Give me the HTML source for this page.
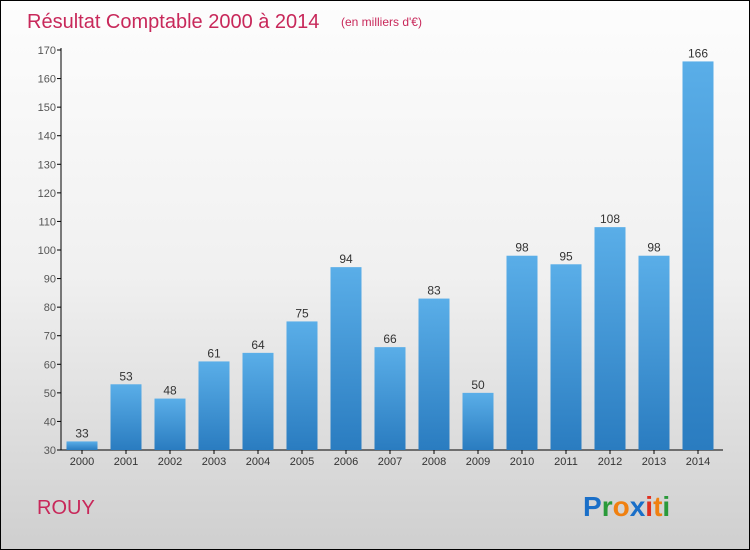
<!DOCTYPE html>
<html><head><meta charset="utf-8"><style>
html,body{margin:0;padding:0}
body{width:750px;height:550px;overflow:hidden;font-family:"Liberation Sans",sans-serif}
#wrap{position:relative;width:748px;height:548px;border:1px solid #000;background:linear-gradient(#fdfdfd 0%,#f0f0f0 50%,#cfcfcf 100%)}
</style></head><body>
<div id="wrap">
<svg id="chart" width="748" height="548" style="position:absolute;left:0;top:0">
<defs><linearGradient id="bg" x1="0" y1="0" x2="0" y2="1"><stop offset="0" stop-color="#5aaee8"/><stop offset="1" stop-color="#2a7cc0"/></linearGradient></defs>
<text x="26" y="27" font-size="20" fill="#c8285a">Résultat Comptable 2000 à 2014</text>
<text x="340" y="25" font-size="12" fill="#c8285a">(en milliers d'€)</text>
<text x="36" y="513" font-size="20" fill="#c8285a">ROUY</text>
<g font-size="28" font-weight="bold" font-family="Liberation Sans,sans-serif">
<text x="582" y="515"><tspan fill="#1a6fc8">P</tspan><tspan fill="#2a9a3a">r</tspan><tspan fill="#f08010">o</tspan><tspan fill="#1a6fc8">x</tspan><tspan fill="#e03020">i</tspan><tspan fill="#f08010">t</tspan><tspan fill="#2a9a3a">i</tspan></text></g>
<g id="axes"></g><g id="bars"></g>
</svg></div>
<script>
const categories=["2000","2001","2002","2003","2004","2005","2006","2007","2008","2009","2010","2011","2012","2013","2014"];
const values=[33,53,48,61,64,75,94,66,83,50,98,95,108,98,166];
const yTicks=[30,40,50,60,70,80,90,100,110,120,130,140,150,160,170];
const NS="http://www.w3.org/2000/svg";
const x0=60,x1=722,yMin=30,yMax=170,py0=449,py1=49;
const y=v=>py0-(v-yMin)/(yMax-yMin)*(py0-py1);
const step=44;
const xc=i=>81+step*i;
function mk(t,a,p){const e=document.createElementNS(NS,t);for(const k in a)e.setAttribute(k,a[k]);p.appendChild(e);return e;}
const ax=document.getElementById('axes'),bs=document.getElementById('bars');
const yl=mk('line',{x1:x0,y1:py1-2,x2:x0,y2:py0,stroke:'#000'},ax);


const xl=mk('line',{x1:x0,y1:py0,x2:x1,y2:py0,stroke:'#000'},ax);


yTicks.forEach(v=>{
 mk('line',{x1:x0-4,y1:y(v),x2:x0,y2:y(v),stroke:'#000'},ax);
 const t=mk('text',{x:x0-5,y:y(v)+4,'font-size':11,fill:'#555','text-anchor':'end'},ax);t.textContent=v;
 
 
});
categories.forEach((c,i)=>{
 const cx=xc(i),w=31;
 const r=mk('rect',{x:cx-w/2,y:y(values[i]),width:w,height:py0-y(values[i]),fill:'url(#bg)'},bs);
 
 
 const vt=mk('text',{x:cx,y:y(values[i])-4,'font-size':12,fill:'#333','text-anchor':'middle'},bs);vt.textContent=values[i];
 
 
 mk('line',{x1:cx,y1:py0,x2:cx,y2:py0+4,stroke:'#000'},ax);
 const t=mk('text',{x:cx,y:py0+15,'font-size':11,fill:'#333','text-anchor':'middle'},ax);t.textContent=c;
 
 
});
</script>
</body></html>
